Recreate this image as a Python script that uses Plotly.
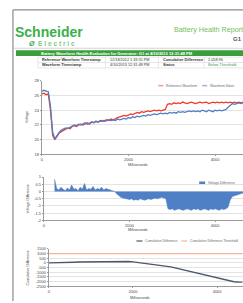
import plotly.graph_objects as go

W, H = 243, 303

# ---------------- data ----------------
t_volt = [0, 50, 100, 150, 200, 250, 300, 350, 400, 450, 500, 550, 600, 650, 700, 750, 800, 850, 900, 950,
          1000, 1050, 1100, 1150, 1200, 1250, 1300, 1350, 1400, 1450, 1500, 1550, 1600, 1650, 1700, 1750, 1800, 1850, 1900, 1950,
          2000, 2050, 2100, 2150, 2200, 2250, 2300, 2350, 2400, 2450, 2500, 2550, 2600, 2650, 2700, 2750, 2800, 2850, 2900, 2950,
          3000, 3050, 3100, 3150, 3200, 3250, 3300, 3350, 3400, 3450, 3500, 3550, 3600, 3650, 3700, 3750, 3800, 3850, 3900, 3950,
          4000, 4050, 4100, 4150, 4200, 4250, 4300, 4350, 4400, 4450, 4500, 4550, 4600, 4650]

reference_waveform = [26.2, 26.3, 26.1, 26.2, 24.0, 20.6, 20.0, 20.4, 20.9, 21.1, 21.3, 21.4, 21.6, 21.5, 21.8, 21.9, 21.8, 22.0, 22.1, 22.0,
                      22.2, 22.3, 22.1, 22.4, 22.3, 22.5, 22.4, 22.6, 22.5, 22.6, 22.7, 22.6, 22.8, 22.7, 22.9, 23.0, 23.1, 23.2, 23.3, 23.2,
                      23.4, 23.5, 23.4, 23.6, 23.7, 23.6, 23.8, 23.7, 23.8, 23.9, 23.8, 23.9, 24.0, 23.9, 24.0, 23.9, 24.0, 24.1, 24.8, 24.9,
                      24.8, 25.0, 24.9, 25.0, 24.9, 25.1, 25.0, 24.9, 25.0, 25.1, 25.0, 24.9, 25.0, 25.1, 25.0, 25.0, 25.1, 24.9, 25.0, 25.1,
                      25.0, 25.1, 25.0, 25.1, 25.0, 25.1, 25.0, 25.1, 25.0, 25.1, 25.0, 25.1, 25.0, 25.1]

waveform_value = [26.6, 26.7, 26.6, 26.5, 24.5, 21.0, 20.1, 20.6, 21.0, 21.3, 21.4, 21.6, 21.5, 21.7, 21.8, 22.0, 21.9, 22.1, 22.0, 22.2,
                  22.3, 22.1, 22.3, 22.4, 22.3, 22.5, 22.4, 22.5, 22.6, 22.5, 22.6, 22.7, 22.6, 22.7, 22.6, 22.8, 22.7, 22.8, 22.9, 22.8,
                  23.0, 22.9, 23.1, 23.0, 23.2, 23.1, 23.2, 23.3, 23.2, 23.4, 23.3, 23.4, 23.5, 23.4, 23.5, 23.6, 23.5, 23.6, 23.5, 23.7,
                  23.6, 23.7, 23.6, 23.8, 23.7, 23.8, 23.7, 23.8, 23.9, 23.8, 23.9, 23.8, 23.9, 23.8, 24.0, 23.9, 23.8, 24.0, 23.9, 23.8,
                  24.0, 23.9, 24.0, 23.9, 24.0, 24.1, 24.4, 24.7, 24.9, 24.8, 24.9, 25.0, 24.9, 25.0]

t_diff = [250, 300, 350, 400, 450, 500, 550, 600, 650, 700, 750, 800, 850, 900, 950,
          1000, 1050, 1100, 1150, 1200, 1250, 1300, 1350, 1400, 1450, 1500, 1550, 1600, 1650, 1700, 1750, 1800, 1850, 1900, 1950,
          2000, 2050, 2100, 2150, 2200, 2250, 2300, 2350, 2400, 2450, 2500, 2550, 2600, 2650, 2700, 2750, 2800, 2850, 2900, 2950,
          3000, 3050, 3100, 3150, 3200, 3250, 3300, 3350, 3400, 3450, 3500, 3550, 3600, 3650, 3700, 3750, 3800, 3850, 3900, 3950,
          4000, 4050, 4100, 4150, 4200, 4250, 4300, 4350, 4400, 4450, 4500, 4550, 4600, 4650]

voltage_difference = [0.85, 0.2, 0.1, 0.3, 0.15, 0.05, 0.25, 0.1, 0.45, 0.15, 0.2, 0.05, 0.3, 0.15, 0.55,
                      0.1, 0.2, 0.15, 0.35, 0.1, 0.2, 0.15, 0.3, 0.1, 0.2, 0.15, 0.1, 0.1, 0.0, -0.15, -0.3, -0.4, -0.45, -0.5, -0.55,
                      -0.55, -0.5, -0.6, -0.55, -0.6, -0.5, -0.55, -0.6, -0.55, -0.5, -0.55, -0.5, -0.45, -0.5, -0.45, -0.4, -0.45, -0.5, -1.2, -1.25,
                      -1.2, -1.3, -1.25, -1.2, -1.25, -1.3, -1.25, -1.2, -1.25, -1.3, -1.2, -1.25, -1.2, -1.3, -1.25, -1.2, -1.25, -1.3, -1.2, -1.25,
                      -1.2, -1.25, -1.3, -1.2, -1.25, -1.2, -1.1, -0.6, -0.35, -0.3, -0.25, -0.2, -0.15, -0.1]

t_cum = [0, 100, 200, 300, 400, 500, 600, 700, 800, 900, 1000, 1100, 1200, 1300, 1400, 1500, 1600, 1700, 1800, 1900,
         2000, 2100, 2200, 2300, 2400, 2500, 2600, 2700, 2800, 2900, 3000, 3100, 3200, 3300, 3400, 3500, 3600, 3700, 3800, 3900,
         4000, 4100, 4200, 4300, 4400, 4500, 4600]
cumulative_difference = [0, 0, 5, 30, 45, 60, 75, 90, 100, 115, 125, 140, 150, 160, 175, 185, 195, 200, 185, 150,
                         105, 55, 0, -55, -110, -165, -215, -270, -330, -420, -530, -640, -750, -860, -970, -1080, -1190, -1300, -1410, -1520,
                         -1630, -1740, -1850, -1950, -2020, -2045, -2059]
cumulative_threshold = [1000] * len(t_cum)

volt_ticks = [18, 20, 22, 24, 26, 28]
diff_ticks = [-2, -1.5, -1, -0.5, 0, 0.5, 1]
cum_ticks = [-2500, -2000, -1500, -1000, -500, 0, 500, 1000, 1500]
ms_ticks = [0, 2000, 4000]

header_title = "Battery Waveform Health Evaluation for Generator: G1 at 4/10/2013 12:31:48 PM"
table_rows = [["Reference Waveform Timestamp", "12/18/2012 1:33:55 PM", "Cumulative Difference", "2,058.96"],
              ["Waveform Timestamp", "4/10/2013 12:31:48 PM", "Status", "Below Threshold"]]

# ---------------- helpers ----------------
def X(px):
    return px / W

def Y(py):
    return 1 - py / H

RED = "#ee3b2a"
BLUE = "#4f7fc4"
GREEN_BAR = "#3a9e3c"
LOGO_GREEN = "#3cb04a"
GRID = "#e3e3e3"
AX = "#9a9a9a"
TXT = "#444444"
FONT = "Liberation Sans"

fig = go.Figure()

fig.add_trace(go.Scatter(x=t_volt, y=reference_waveform, mode="lines", line=dict(color=RED, width=1.3),
                         xaxis="x", yaxis="y", showlegend=False))
fig.add_trace(go.Scatter(x=t_volt, y=waveform_value, mode="lines", line=dict(color=BLUE, width=1.3),
                         xaxis="x", yaxis="y", showlegend=False))
fig.add_trace(go.Scatter(x=t_diff, y=voltage_difference, mode="lines", fill="tozeroy", fillcolor=BLUE,
                         line=dict(color=BLUE, width=0.6), xaxis="x2", yaxis="y2", showlegend=False))
fig.add_trace(go.Scatter(x=t_cum, y=cumulative_threshold, mode="lines", line=dict(color="#f7b29c", width=1.2),
                         xaxis="x3", yaxis="y3", showlegend=False))
fig.add_trace(go.Scatter(x=t_cum, y=cumulative_difference, mode="lines", line=dict(color="#4d586b", width=1.4),
                         xaxis="x3", yaxis="y3", showlegend=False))

tickfont = dict(size=4, color=TXT, family=FONT)

def xax(domain, rng, anchor):
    return dict(domain=domain, range=rng, anchor=anchor, tickvals=ms_ticks, ticktext=[str(v) for v in ms_ticks],
                showgrid=False, zeroline=False, showline=True, linecolor=AX, linewidth=1,
                ticks="outside", ticklen=1, tickcolor=AX, tickfont=tickfont)

def yax(domain, rng, ticks, anchor):
    return dict(domain=domain, range=rng, anchor=anchor, tickvals=ticks, ticktext=[str(v) for v in ticks],
                showgrid=True, gridcolor=GRID, gridwidth=0.6, zeroline=False, showline=True, linecolor=AX, linewidth=1,
                ticks="outside", ticklen=1, tickcolor=AX, tickfont=tickfont)

fig.update_layout(
    width=W, height=H, margin=dict(l=0, r=0, t=0, b=0),
    paper_bgcolor="white", plot_bgcolor="white",
    xaxis=xax([X(41), 1], [0, 4644], "y"),
    yaxis=yax([Y(154), Y(79)], [18, 28], volt_ticks, "x"),
    xaxis2=xax([X(43), 1], [0, 4651], "y2"),
    yaxis2=yax([Y(221), Y(177)], [-2, 1], diff_ticks, "x2"),
    xaxis3=xax([X(48), 1], [0, 4615], "y3"),
    yaxis3=yax([Y(288), Y(250)], [-2500, 1500], cum_ticks, "x3"),
)

shapes = []
ann = []

def line(x0, y0, x1, y1, color, width=1):
    shapes.append(dict(type="line", xref="paper", yref="paper", x0=X(x0), y0=Y(y0), x1=X(x1), y1=Y(y1),
                       line=dict(color=color, width=width)))

def rect(x0, y0, x1, y1, color):
    shapes.append(dict(type="rect", xref="paper", yref="paper", x0=X(x0), y0=Y(y0), x1=X(x1), y1=Y(y1),
                       fillcolor=color, line=dict(width=0), layer="below"))

def text(s, x, y, size, color=TXT, bold=False, anchor="left", angle=0, family=FONT):
    ann.append(dict(text=("<b>%s</b>" % s) if bold else s, x=X(x), y=Y(y), xref="paper", yref="paper",
                    xanchor=anchor, yanchor="middle", showarrow=False, textangle=angle, borderpad=0,
                    font=dict(size=size, color=color, family=family)))

# page border
line(12, 7, 12, 303, "#8a8a8a", 1.2)
line(12, 7, 243, 7, "#8a8a8a", 1.2)

# logo
text("Schneider", 13, 29, 14, LOGO_GREEN, bold=True)
text("<i>Ø</i>", 27.5, 41, 7, LOGO_GREEN, bold=True)
text("E l e c t r i c", 36.5, 41, 6.6, "#7cc98a", bold=True)
text("Battery Health Report", 173, 27, 7.2, "#72c05a")
text("G1", 243, 37, 6, "#555555", bold=True, anchor="right")
line(13, 46, 243, 46, "#c8c8c8", 0.8)

# green title bar
rect(15, 48, 243, 54, GREEN_BAR)
text(header_title, 39, 51.2, 4, "white", bold=True)

# table
for yy in [55, 60.5, 66]:
    line(37, yy, 243, yy, "#cfcfcf", 0.5)
for xx in [37, 105, 158, 204]:
    line(xx, 55, xx, 66, "#cfcfcf", 0.5)
col_x = [40.5, 108, 162, 207]
for r, row in enumerate(table_rows):
    yy = 57.8 + r * 5.5
    for c, val in enumerate(row):
        color = "#3aa04a" if (r == 1 and c == 3) else "#333333"
        text(val, col_x[c], yy, 3.8, color, bold=(c in (0, 2)))

# chart 1 legend & titles
line(158, 84, 163, 84, "#f49a8c", 1.5)
text("Reference Waveform", 164.5, 84, 3.3, "#666666")
line(202, 84, 207, 84, "#9bb5e0", 1.5)
text("Waveform Value", 208.5, 84, 3.3, "#666666")
text("Voltage", 26, 116, 3.6, TXT, angle=-90, anchor="center")
text("Milliseconds", 138, 165, 3.6, TXT, anchor="center")

# chart 2 legend & titles
rect(199, 181.5, 205, 184.5, BLUE)
text("Voltage Difference", 207, 183, 3.3, "#666666")
text("Voltage Difference", 27, 199, 3.6, TXT, angle=-90, anchor="center")
text("Milliseconds", 138, 231, 3.6, TXT, anchor="center")

# chart 3 legend & titles
line(136, 242, 142, 242, "#4d586b", 1.2)
text("Cumulative Difference", 143.5, 242, 3.3, "#666666")
line(181, 242, 187, 242, "#f7b29c", 1.2)
text("Cumulative Difference Threshold", 189, 242, 3.3, "#666666")
text("Cumulative Difference", 27, 269, 3.6, TXT, angle=-90, anchor="center")
text("Milliseconds", 140, 300, 3.6, TXT, anchor="center")

fig.update_layout(shapes=shapes, annotations=ann)
fig.write_html("out.html", config={"displayModeBar": False},
               post_script="document.body.style.margin='0';document.body.style.overflow='hidden';")
